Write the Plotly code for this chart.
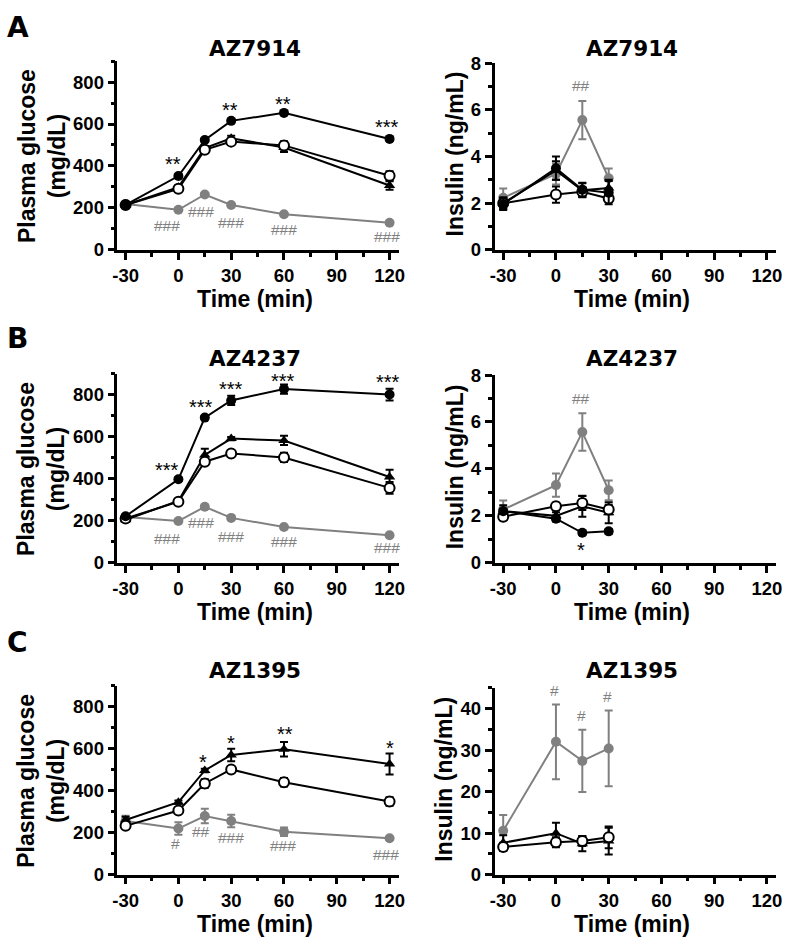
import plotly.graph_objects as go

W, H = 789, 948

# ---------------- data ----------------
time_glu = [-30, 0, 15, 30, 60, 120]
time_ins = [-30, 0, 15, 30]
x_ticks = [-30, 0, 30, 60, 90, 120]
x_tick_labels = ["-30", "0", "30", "60", "90", "120"]
glu_ticks = [0, 200, 400, 600, 800]
ins_ticks_ab = [0, 2, 4, 6, 8]
ins_ticks_c = [0, 10, 20, 30, 40]

# Panel A  (AZ7914)
a_glu_filled = [214, 352, 524, 615, 653, 529]
a_glu_filled_err = [8, 8, 8, 8, 8, 8]
a_glu_tri = [214, 299, 485, 532, 488, 307]
a_glu_tri_err = [8, 8, 10, 12, 22, 20]
a_glu_open = [214, 291, 477, 516, 498, 353]
a_glu_open_err = [8, 8, 15, 12, 20, 22]
a_glu_gray = [219, 191, 264, 214, 170, 129]
a_glu_gray_err = [6, 6, 6, 6, 6, 6]

a_ins_gray = [2.23, 3.25, 5.56, 3.07]
a_ins_gray_err = [0.4, 0.45, 0.82, 0.42]
a_ins_filled = [1.96, 3.5, 2.58, 2.45]
a_ins_filled_err = [0.25, 0.5, 0.3, 0.5]
a_ins_open = [2.0, 2.37, 2.49, 2.2]
a_ins_open_err = [0.2, 0.35, 0.2, 0.15]
a_ins_tri = [2.0, 3.4, 2.55, 2.65]
a_ins_tri_err = [0.25, 0.4, 0.3, 0.35]

# Panel B  (AZ4237)
b_glu_filled = [222, 398, 692, 774, 828, 802]
b_glu_filled_err = [8, 8, 8, 22, 22, 28]
b_glu_tri = [205, 295, 514, 592, 583, 409]
b_glu_tri_err = [8, 8, 30, 8, 22, 35]
b_glu_open = [211, 291, 482, 521, 502, 357]
b_glu_open_err = [8, 8, 12, 8, 22, 28]
b_glu_gray = [218, 199, 267, 214, 171, 131]
b_glu_gray_err = [6, 6, 6, 6, 6, 6]

b_ins_gray = [2.27, 3.31, 5.57, 3.09]
b_ins_gray_err = [0.38, 0.5, 0.8, 0.42]
b_ins_filled = [2.2, 1.88, 1.28, 1.34]
b_ins_filled_err = [0.1, 0.12, 0.1, 0.1]
b_ins_open = [1.96, 2.41, 2.55, 2.27]
b_ins_open_err = [0.15, 0.15, 0.3, 0.2]
b_ins_tri = [2.2, 2.0, 2.41, 2.13]
b_ins_tri_err = [0.25, 0.15, 0.45, 0.45]

# Panel C  (AZ1395)
c_glu_tri = [261, 346, 497, 571, 598, 528]
c_glu_tri_err = [15, 8, 8, 30, 35, 50]
c_glu_open = [233, 306, 435, 502, 441, 349]
c_glu_open_err = [8, 8, 20, 8, 20, 20]
c_glu_gray = [256, 220, 280, 256, 205, 174]
c_glu_gray_err = [25, 30, 35, 30, 20, 6]

c_ins_gray = [10.6, 32.0, 27.4, 30.4]
c_ins_gray_err = [3.8, 9.0, 7.5, 9.1]
c_ins_tri = [7.7, 10.0, 7.45, 8.1]
c_ins_tri_err = [1.8, 2.5, 1.8, 3.2]
c_ins_open = [6.7, 7.8, 8.1, 9.0]
c_ins_open_err = [1.0, 1.2, 1.2, 2.6]

# significance labels: (text, time, value)
a_glu_sig = [("**", -3, 431), ("**", 29.5, 690), ("**", 59.6, 721), ("***", 118.4, 609)]
a_glu_hash = [("###", -6.5, 116), ("###", 12.7, 183), ("###", 29.8, 129), ("###", 60, 98), ("###", 118.4, 64)]
a_ins_hash = [("##", 14.2, 7.02)]
b_glu_sig = [("***", -6.7, 466), ("***", 12.6, 766), ("***", 29.7, 852), ("***", 59.4, 890), ("***", 119, 884)]
b_glu_hash = [("###", -6.3, 117), ("###", 12.7, 191), ("###", 29.8, 124), ("###", 60, 103), ("###", 118.4, 71)]
b_ins_sig = [("*", 14.5, 0.74)]
b_ins_hash = [("##", 14.5, 7.0)]
c_glu_sig = [("*", 13.9, 562), ("*", 30, 652), ("**", 60.5, 696), ("*", 120, 629)]
c_glu_hash = [("#", -1.4, 150), ("##", 13.1, 205), ("###", 30, 177), ("###", 59.6, 137), ("###", 117.7, 96)]
c_ins_hash = [("#", -0.8, 44.3), ("#", 14.5, 38.4), ("#", 29.4, 42.9)]

titles = ["AZ7914", "AZ7914", "AZ4237", "AZ4237", "AZ1395", "AZ1395"]
panel_letters = ["A", "B", "C"]

# ---------------- styles ----------------
BLACK = "#000000"
GRAY = "#808080"
STY = {
    "filled": dict(symbol="circle", color=BLACK, lc=BLACK, size=10, lw=0),
    "open": dict(symbol="circle", color="white", lc=BLACK, size=10, lw=2),
    "tri": dict(symbol="triangle-up", color=BLACK, lc=BLACK, size=10, lw=0),
    "gray": dict(symbol="circle", color=GRAY, lc=GRAY, size=10, lw=0),
}

fig = go.Figure()


def add_series(x, y, err, kind, idx):
    s = STY[kind]
    line_col = GRAY if kind == "gray" else BLACK
    fig.add_trace(go.Scatter(
        x=x, y=y, mode="lines+markers",
        line=dict(color=line_col, width=2),
        marker=dict(symbol=s["symbol"], color=s["color"], size=s["size"],
                    line=dict(color=s["lc"], width=s["lw"])),
        error_y=dict(type="data", array=err, visible=True, color=line_col,
                     thickness=2, width=4),
        xaxis="x" if idx == 1 else f"x{idx}",
        yaxis="y" if idx == 1 else f"y{idx}",
        cliponaxis=False, showlegend=False, name=kind,
    ))


# Panel A
add_series(time_glu, a_glu_gray, a_glu_gray_err, "gray", 1)
add_series(time_glu, a_glu_tri, a_glu_tri_err, "tri", 1)
add_series(time_glu, a_glu_open, a_glu_open_err, "open", 1)
add_series(time_glu, a_glu_filled, a_glu_filled_err, "filled", 1)
add_series(time_ins, a_ins_gray, a_ins_gray_err, "gray", 2)
add_series(time_ins, a_ins_tri, a_ins_tri_err, "tri", 2)
add_series(time_ins, a_ins_open, a_ins_open_err, "open", 2)
add_series(time_ins, a_ins_filled, a_ins_filled_err, "filled", 2)
# Panel B
add_series(time_glu, b_glu_gray, b_glu_gray_err, "gray", 3)
add_series(time_glu, b_glu_tri, b_glu_tri_err, "tri", 3)
add_series(time_glu, b_glu_open, b_glu_open_err, "open", 3)
add_series(time_glu, b_glu_filled, b_glu_filled_err, "filled", 3)
add_series(time_ins, b_ins_gray, b_ins_gray_err, "gray", 4)
add_series(time_ins, b_ins_tri, b_ins_tri_err, "tri", 4)
add_series(time_ins, b_ins_open, b_ins_open_err, "open", 4)
add_series(time_ins, b_ins_filled, b_ins_filled_err, "filled", 4)
# Panel C
add_series(time_glu, c_glu_gray, c_glu_gray_err, "gray", 5)
add_series(time_glu, c_glu_tri, c_glu_tri_err, "tri", 5)
add_series(time_glu, c_glu_open, c_glu_open_err, "open", 5)
add_series(time_ins, c_ins_gray, c_ins_gray_err, "gray", 6)
add_series(time_ins, c_ins_tri, c_ins_tri_err, "tri", 6)
add_series(time_ins, c_ins_open, c_ins_open_err, "open", 6)

# ---------------- axes ----------------
TICKFONT = dict(family="Liberation Sans, Arial", size=18.5, color="black")


def fx(px):
    return px / W


def fy(px):
    return 1 - px / H


def bold(labels):
    return ["<b>" + str(t) + "</b>" for t in labels]


left_x = ((114, 400), [-34.65, 125.6])
right_x = ((496.5, 782), [-34.9, 125.2])
panels = [
    (left_x, (51.2, 244.3), [0, 900], glu_ticks, 100),
    (right_x, (53.3, 244.3), [0, 8], ins_ticks_ab, 1),
    (left_x, (371.2, 564.3), [0, 900], glu_ticks, 100),
    (right_x, (372.3, 564.3), [0, 8], ins_ticks_ab, 1),
    (left_x, (690.2, 883.3), [0, 900], glu_ticks, 100),
    (right_x, (692.1, 883.3), [0, 45], ins_ticks_c, 5),
]

layout = dict(width=W, height=H, margin=dict(l=0, r=0, t=0, b=0),
              paper_bgcolor="white", plot_bgcolor="white", showlegend=False)
for i, ((xd, xr), yd, yr, yt, ymn) in enumerate(panels, start=1):
    sx = "" if i == 1 else str(i)
    layout["xaxis" + sx] = dict(
        domain=[fx(xd[0]), fx(xd[1])], range=xr, anchor="y" + sx,
        tickmode="array", tickvals=x_ticks, ticktext=bold(x_tick_labels),
        showline=True, linecolor="black", linewidth=2.5,
        ticks="outside", ticklen=7, tickwidth=2.5, tickcolor="black",
        showgrid=False, zeroline=False, tickfont=TICKFONT,
        minor=dict(ticks="outside", ticklen=4, tickwidth=2.5, tickcolor="black",
                   tick0=-30, dtick=15, showgrid=False),
    )
    layout["yaxis" + sx] = dict(
        domain=[fy(yd[1]), fy(yd[0])], range=yr, anchor="x" + sx,
        tickmode="array", tickvals=yt, ticktext=bold(yt),
        showline=True, linecolor="black", linewidth=2.5,
        ticks="outside", ticklen=7, tickwidth=2.5, tickcolor="black",
        showgrid=False, zeroline=False, tickfont=TICKFONT,
        minor=dict(ticks="outside", ticklen=4, tickwidth=2.5, tickcolor="black",
                   tick0=0, dtick=ymn, showgrid=False),
    )
fig.update_layout(**layout)

# ---------------- text ----------------
ann = []
TITLEFONT = dict(family="DejaVu Sans", size=21.5, color="black")
AXFONT = dict(family="Liberation Sans, Arial", size=23, color="black")
row_axis_px = [244.3, 564.3, 883.3]
title_y_px = [38.2, 355.5, 674.5]
letter_y_px = [16.7, 335, 646]
insulin_title_x_px = [456.7, 456.7, 445]
for r in range(3):
    for c in range(2):
        i = r * 2 + c
        (xd, _), _, _, _, _ = panels[i]
        cx = (xd[0] + xd[1]) / 2 - 3
        ann.append(dict(text="<b>" + titles[i] + "</b>", x=fx(cx), y=fy(title_y_px[r]),
                        xref="paper", yref="paper",
                        showarrow=False, font=TITLEFONT, xanchor="center", yanchor="middle"))
        ann.append(dict(text="<b>Time (min)</b>", x=fx(cx), y=fy(row_axis_px[r] + 50.5), xref="paper",
                        yref="paper", showarrow=False, font=AXFONT, xanchor="center", yanchor="middle"))
    ann.append(dict(text="<b>Plasma glucose</b><br><b>(mg/dL)</b>", x=fx(37), y=fy(row_axis_px[r] - 96.5),
                    xref="paper", yref="paper", showarrow=False, font=AXFONT, textangle=-90,
                    xanchor="center", yanchor="middle"))
    ann.append(dict(text="<b>Insulin (ng/mL)</b>", x=fx(insulin_title_x_px[r]), y=fy(row_axis_px[r] - 98),
                    xref="paper", yref="paper", showarrow=False, font=AXFONT, textangle=-90,
                    xanchor="center", yanchor="middle"))
    ann.append(dict(text="<b>" + panel_letters[r] + "</b>", x=fx(13), y=fy(letter_y_px[r]),
                    xref="paper", yref="paper",
                    showarrow=False, font=dict(family="DejaVu Sans", size=28, color="black"),
                    xanchor="center", yanchor="middle"))

STARFONT = dict(family="Liberation Sans, Arial", size=20, color="black")
HASHFONT = dict(family="Liberation Sans, Arial", size=15.5, color=GRAY)


def add_labels(items, idx, font, yshift):
    sx = "" if idx == 1 else str(idx)
    for t, xv, yv in items:
        ann.append(dict(text=t, x=xv, y=yv, xref="x" + sx, yref="y" + sx, showarrow=False,
                        font=font, xanchor="center", yanchor="middle", yshift=yshift))


add_labels(a_glu_sig, 1, STARFONT, -5)
add_labels(a_glu_hash, 1, HASHFONT, 0)
add_labels(a_ins_hash, 2, HASHFONT, 0)
add_labels(b_glu_sig, 3, STARFONT, -5)
add_labels(b_glu_hash, 3, HASHFONT, 0)
add_labels(b_ins_sig, 4, STARFONT, -5)
add_labels(b_ins_hash, 4, HASHFONT, 0)
add_labels(c_glu_sig, 5, STARFONT, -5)
add_labels(c_glu_hash, 5, HASHFONT, 0)
add_labels(c_ins_hash, 6, HASHFONT, 0)

fig.update_layout(annotations=ann)
fig.write_html("out.html", config={"displayModeBar": False},
               post_script="document.body.style.margin='0';document.body.style.overflow='hidden';")
